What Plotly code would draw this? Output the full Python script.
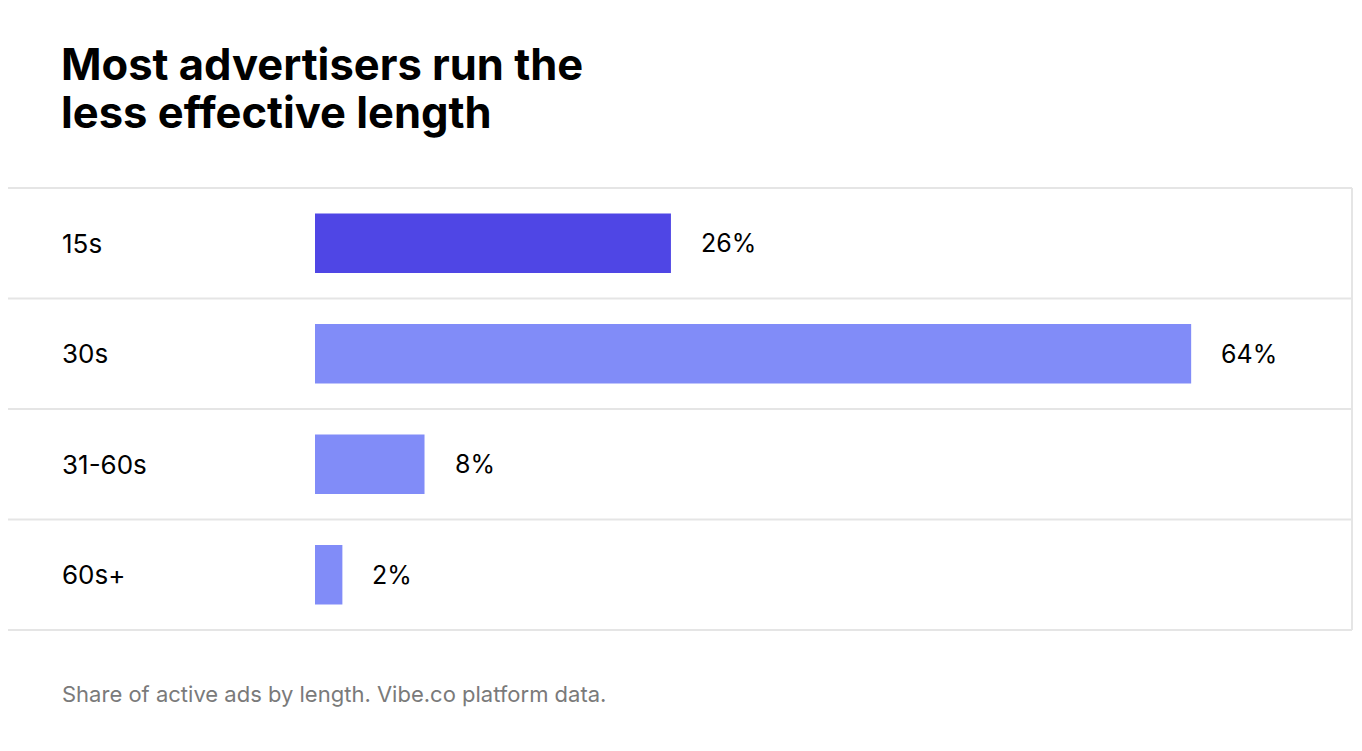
import plotly.graph_objects as go

# data
lengths = ['15s', '30s', '31-60s', '60s+']
shares = [26, 64, 8, 2]
bar_colors = ['#4F46E5', '#818CF8', '#818CF8', '#818CF8']
title_lines = ['Most advertisers run the', 'less effective length']
note = 'Share of active ads by length. Vibe.co platform data.'

# page has an 8px body margin, so lay out in screen px minus 8
OFF = 8
W, H = 1362 - 2 * OFF, 751 - 2 * OFF
top, bottom = 187 - OFF, 631 - OFF
plot_h = bottom - top
px_per_pct = 13.69
x0_px = 315 - OFF
plot_w = W - 2
x_min = -x0_px / px_per_pct
x_max = (plot_w - x0_px) / px_per_pct


def py(screen_y):
    # screen y -> paper y of the plot area
    return (bottom - (screen_y - OFF)) / plot_h


fig = go.Figure(go.Bar(
    y=lengths, x=shares, orientation='h',
    marker=dict(color=bar_colors, line=dict(width=0)),
    width=0.54, hoverinfo='skip'))

# row separators and right border
for i in range(len(lengths) + 1):
    fig.add_shape(type='line', xref='paper', yref='y', x0=0, x1=1,
                  y0=i - 0.5, y1=i - 0.5, line=dict(color='#e5e5e5', width=2))
fig.add_shape(type='line', xref='paper', yref='y', x0=1, x1=1,
              y0=-0.5, y1=len(lengths) - 0.5, line=dict(color='#e5e5e5', width=2))

# category labels + value labels
for cat, v in zip(lengths, shares):
    fig.add_annotation(x=0, xref='paper', y=cat, text=cat, showarrow=False,
                       xanchor='left', xshift=62 - OFF - 2, font=dict(size=26, color='#000'))
    fig.add_annotation(x=v, y=cat, text=f'{v}%', showarrow=False,
                       xanchor='left', xshift=28, font=dict(size=25, color='#000'))

# title, two lines
for line, cy in zip(title_lines, [64, 112]):
    fig.add_annotation(x=0, xref='paper', y=py(cy), yref='paper', yanchor='middle',
                       text=f'<b>{line}</b>', showarrow=False, xanchor='left',
                       xshift=62 - OFF - 3, font=dict(size=43.5, color='#000'))

fig.add_annotation(x=0, xref='paper', y=py(694), yref='paper', yanchor='middle',
                   text=note, showarrow=False, xanchor='left', xshift=62 - OFF - 2,
                   font=dict(size=22, color='#7a7a7a'))

fig.update_layout(
    width=W, height=H,
    margin=dict(l=0, r=W - plot_w, t=top, b=H - bottom),
    paper_bgcolor='white', plot_bgcolor='white',
    font=dict(family='Inter', color='#000'),
    showlegend=False,
    xaxis=dict(range=[x_min, x_max], visible=False, fixedrange=True),
    yaxis=dict(autorange='reversed', visible=False, fixedrange=True),
)

fig.write_html('out.html')
